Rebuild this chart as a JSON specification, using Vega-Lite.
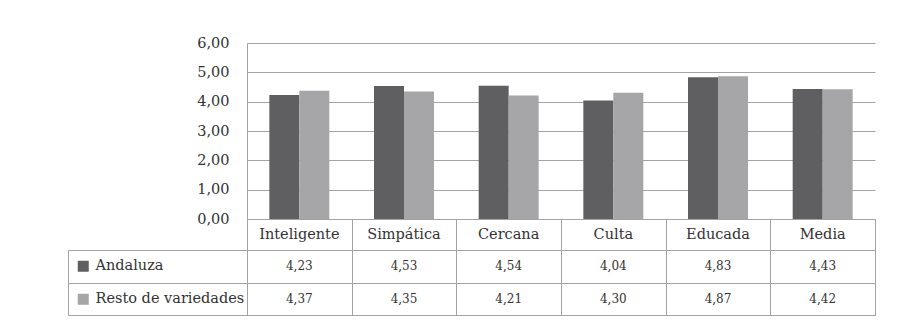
{
  "$schema": "https://vega.github.io/schema/vega-lite/v6.json",
  "padding": {"left": 67, "top": 35, "right": 46, "bottom": 14},
  "background": "white",
  "config": {
    "locale": {"number": {"decimal": ",", "thousands": ".", "grouping": [3], "currency": ["", " €"]}},
    "font": "DejaVu Serif",
    "view": {"stroke": null},
    "axis": {"labelFont": "DejaVu Serif", "labelColor": "#333333", "gridColor": "#a3a3a3", "domainColor": "#a3a3a3", "tickColor": "#a3a3a3", "title": null},
    "legend": {"labelFont": "DejaVu Serif", "labelFontSize": 14.5, "labelColor": "#333333"},
    "text": {"font": "DejaVu Serif", "color": "#333333"}
  },
  "datasets": {
    "scores": [
      {"cat": "Inteligente", "serie": "Andaluza", "value": 4.23},
      {"cat": "Inteligente", "serie": "Resto de variedades", "value": 4.37},
      {"cat": "Simpática", "serie": "Andaluza", "value": 4.53},
      {"cat": "Simpática", "serie": "Resto de variedades", "value": 4.35},
      {"cat": "Cercana", "serie": "Andaluza", "value": 4.54},
      {"cat": "Cercana", "serie": "Resto de variedades", "value": 4.21},
      {"cat": "Culta", "serie": "Andaluza", "value": 4.04},
      {"cat": "Culta", "serie": "Resto de variedades", "value": 4.30},
      {"cat": "Educada", "serie": "Andaluza", "value": 4.83},
      {"cat": "Educada", "serie": "Resto de variedades", "value": 4.87},
      {"cat": "Media", "serie": "Andaluza", "value": 4.43},
      {"cat": "Media", "serie": "Resto de variedades", "value": 4.42}
    ]
  },
  "vconcat": [
    {
      "width": 628,
      "height": 176,
      "data": {"name": "scores"},
      "mark": {"type": "bar"},
      "encoding": {
        "x": {"field": "cat", "type": "nominal", "sort": ["Inteligente", "Simpática", "Cercana", "Culta", "Educada", "Media"], "scale": {"paddingInner": 0, "paddingOuter": 0}, "axis": null},
        "xOffset": {"field": "serie", "type": "nominal", "sort": ["Andaluza", "Resto de variedades"], "scale": {"paddingInner": 0, "paddingOuter": 0.745}},
        "y": {"field": "value", "type": "quantitative", "scale": {"domain": [0, 6], "nice": false},
          "axis": {"values": [0, 1, 2, 3, 4, 5, 6], "format": ".2f", "grid": true, "ticks": false, "domain": true, "labelPadding": 18, "labelFontSize": 14.5}},
        "color": {"field": "serie", "type": "nominal", "scale": {"domain": ["Andaluza", "Resto de variedades"], "range": ["#5f5f61", "#a6a6a8"]},
          "legend": {"orient": "none", "legendX": -171, "legendY": 216, "title": null, "symbolType": "square", "symbolSize": 121, "symbolStrokeWidth": 0, "symbolOpacity": 1, "labelFont": "DejaVu Serif", "labelFontSize": 14.5, "labelColor": "#333333", "labelLimit": 300, "labelOffset": 5, "rowPadding": 18}}
      }
    },
    {
      "width": 628,
      "height": 31,
      "view": {"stroke": "#a3a3a3"},
      "data": {"name": "scores"},
      "transform": [{"filter": "datum.serie === 'Andaluza'"}],
      "mark": {"type": "text", "fontSize": 14.5, "baseline": "middle"},
      "encoding": {
        "x": {"field": "cat", "type": "nominal", "sort": ["Inteligente", "Simpática", "Cercana", "Culta", "Educada", "Media"], "scale": {"paddingInner": 0, "paddingOuter": 0},
          "axis": {"grid": true, "tickBand": "extent", "labels": false, "ticks": false, "domain": false}},
        "text": {"field": "cat"}
      }
    },
    {
      "width": 628,
      "height": 65,
      "view": {"stroke": "#a3a3a3"},
      "data": {"name": "scores"},
      "mark": {"type": "text", "fontSize": 12, "baseline": "middle"},
      "encoding": {
        "x": {"field": "cat", "type": "nominal", "sort": ["Inteligente", "Simpática", "Cercana", "Culta", "Educada", "Media"], "scale": {"paddingInner": 0, "paddingOuter": 0},
          "axis": {"grid": true, "tickBand": "extent", "labels": false, "ticks": false, "domain": false}},
        "y": {"field": "serie", "type": "nominal", "sort": ["Andaluza", "Resto de variedades"], "scale": {"paddingInner": 0, "paddingOuter": 0},
          "axis": {"grid": true, "tickBand": "extent", "labels": false, "ticks": true, "tickSize": -179, "offset": 179, "domain": true}},
        "text": {"field": "value", "type": "quantitative", "format": ".2f"}
      }
    }
  ],
  "spacing": 0,
  "bounds": "flush"
}
